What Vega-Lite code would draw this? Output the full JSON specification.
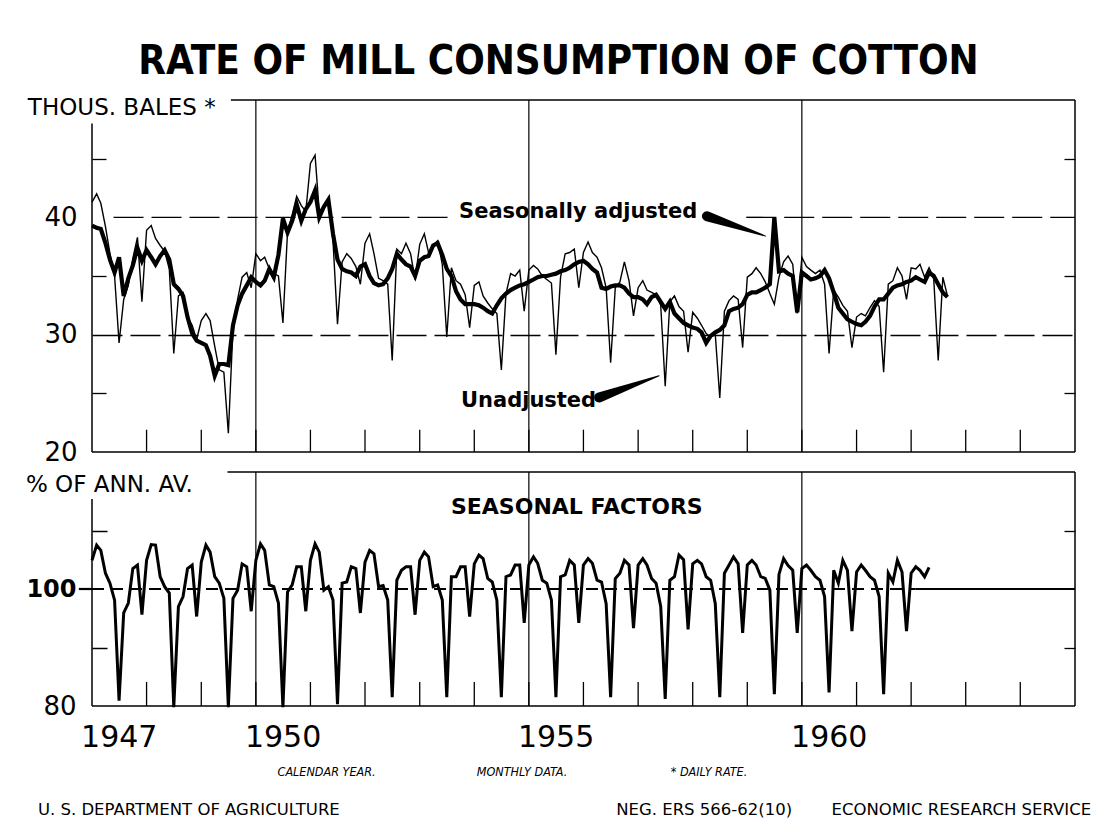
{
"$schema": "https://vega.github.io/schema/vega-lite/v6.json",
"background": "white",
"padding": {"left": 25, "top": 42, "right": 5, "bottom": 5},
"title": {"text": "RATE OF MILL CONSUMPTION OF COTTON", "font": "DejaVu Sans Condensed, DejaVu Sans", "fontSize": 40, "fontWeight": "bold", "color": "black", "anchor": "middle", "frame": "bounds", "offset": 15},
"config": {"view": {"stroke": null}, "axis": {"labelColor": "black", "tickColor": "black", "gridColor": "black", "domain": false, "labelFont": "DejaVu Sans"}},
"spacing": 6,
"datasets": {
"yrs": [{"y":"1948-01-01"},{"y":"1949-01-01"},{"y":"1950-01-01"},{"y":"1951-01-01"},{"y":"1952-01-01"},{"y":"1953-01-01"},{"y":"1954-01-01"},{"y":"1955-01-01"},{"y":"1956-01-01"},{"y":"1957-01-01"},{"y":"1958-01-01"},{"y":"1959-01-01"},{"y":"1960-01-01"},{"y":"1961-01-01"},{"y":"1962-01-01"},{"y":"1963-01-01"},{"y":"1964-01-01"}],
"g5": [{"y":"1950-01-01"},{"y":"1955-01-01"},{"y":"1960-01-01"}],
"yl": [{"d":"1947-07-02","t":"1947"},{"d":"1950-07-02","t":"1950"},{"d":"1955-07-02","t":"1955"},{"d":"1960-07-02","t":"1960"}],
"m": [
{"d":"1947-01","u":41.3,"a":39.3,"s":104.9},{"d":"1947-02","u":42.0,"a":39.1,"s":107.5},{"d":"1947-03","u":41.2,"a":39.0,"s":106.6},{"d":"1947-04","u":39.2,"a":37.8,"s":102.7},{"d":"1947-05","u":36.9,"a":36.4,"s":101.0},{"d":"1947-06","u":35.0,"a":35.3,"s":98.1},{"d":"1947-07","u":29.3,"a":36.6,"s":80.9},{"d":"1947-08","u":33.0,"a":33.3,"s":95.9},{"d":"1947-09","u":34.2,"a":34.8,"s":97.6},{"d":"1947-10","u":36.5,"a":35.9,"s":103.5},{"d":"1947-11","u":38.3,"a":37.4,"s":104.1},{"d":"1947-12","u":32.8,"a":36.3,"s":95.6},
{"d":"1948-01","u":38.9,"a":37.2,"s":104.9},{"d":"1948-02","u":39.3,"a":36.6,"s":107.6},{"d":"1948-03","u":38.2,"a":36.0,"s":107.5},{"d":"1948-04","u":37.6,"a":36.7,"s":102.1},{"d":"1948-05","u":37.1,"a":37.2,"s":100.4},{"d":"1948-06","u":35.6,"a":36.4,"s":99.3},{"d":"1948-07","u":28.4,"a":34.3,"s":79.8},{"d":"1948-08","u":33.3,"a":33.9,"s":97.0},{"d":"1948-09","u":33.6,"a":33.3,"s":98.7},{"d":"1948-10","u":31.5,"a":31.5,"s":103.5},{"d":"1948-11","u":30.8,"a":30.1,"s":104.1},{"d":"1948-12","u":29.6,"a":29.5,"s":95.3},
{"d":"1949-01","u":31.2,"a":29.3,"s":104.6},{"d":"1949-02","u":31.8,"a":29.1,"s":107.5},{"d":"1949-03","u":31.2,"a":28.2,"s":106.3},{"d":"1949-04","u":29.0,"a":26.5,"s":102.1},{"d":"1949-05","u":27.0,"a":27.5,"s":101.0},{"d":"1949-06","u":26.8,"a":27.5,"s":98.4},{"d":"1949-07","u":21.6,"a":27.4,"s":79.8},{"d":"1949-08","u":30.5,"a":30.8,"s":98.4},{"d":"1949-09","u":33.0,"a":32.5,"s":99.8},{"d":"1949-10","u":34.9,"a":33.5,"s":104.3},{"d":"1949-11","u":35.3,"a":34.2,"s":103.8},{"d":"1949-12","u":34.0,"a":34.9,"s":96.2},
{"d":"1950-01","u":36.9,"a":34.5,"s":104.9},{"d":"1950-02","u":36.3,"a":34.2,"s":107.7},{"d":"1950-03","u":36.6,"a":34.6,"s":106.6},{"d":"1950-04","u":35.6,"a":35.6,"s":100.7},{"d":"1950-05","u":35.2,"a":34.9,"s":100.4},{"d":"1950-06","u":35.0,"a":36.8,"s":97.6},{"d":"1950-07","u":31.0,"a":39.9,"s":79.8},{"d":"1950-08","u":38.8,"a":38.7,"s":99.5},{"d":"1950-09","u":40.2,"a":39.7,"s":100.7},{"d":"1950-10","u":41.8,"a":41.1,"s":103.8},{"d":"1950-11","u":41.0,"a":39.7,"s":103.8},{"d":"1950-12","u":40.5,"a":40.7,"s":96.2},
{"d":"1951-01","u":44.6,"a":41.3,"s":104.9},{"d":"1951-02","u":45.3,"a":42.3,"s":107.7},{"d":"1951-03","u":40.5,"a":40.0,"s":106.3},{"d":"1951-04","u":41.0,"a":40.9,"s":99.8},{"d":"1951-05","u":41.6,"a":41.5,"s":100.4},{"d":"1951-06","u":38.0,"a":38.6,"s":98.1},{"d":"1951-07","u":30.9,"a":36.4,"s":80.3},{"d":"1951-08","u":36.2,"a":35.6,"s":101.0},{"d":"1951-09","u":36.9,"a":35.4,"s":101.2},{"d":"1951-10","u":36.5,"a":35.3,"s":103.8},{"d":"1951-11","u":35.8,"a":35.0,"s":103.5},{"d":"1951-12","u":34.3,"a":35.8,"s":95.9},
{"d":"1952-01","u":37.8,"a":36.0,"s":104.6},{"d":"1952-02","u":38.6,"a":35.0,"s":106.6},{"d":"1952-03","u":36.9,"a":34.4,"s":106.0},{"d":"1952-04","u":34.8,"a":34.2,"s":100.4},{"d":"1952-05","u":34.6,"a":34.3,"s":100.6},{"d":"1952-06","u":34.3,"a":34.8,"s":98.1},{"d":"1952-07","u":27.8,"a":35.6,"s":81.5},{"d":"1952-08","u":37.3,"a":36.9,"s":101.5},{"d":"1952-09","u":36.9,"a":36.4,"s":103.2},{"d":"1952-10","u":37.8,"a":36.0,"s":103.8},{"d":"1952-11","u":36.9,"a":35.8,"s":103.8},{"d":"1952-12","u":34.7,"a":35.0,"s":95.6},
{"d":"1953-01","u":37.7,"a":36.3,"s":104.9},{"d":"1953-02","u":38.6,"a":36.6,"s":106.3},{"d":"1953-03","u":37.0,"a":36.7,"s":105.5},{"d":"1953-04","u":37.6,"a":37.6,"s":100.4},{"d":"1953-05","u":38.0,"a":37.8,"s":100.7},{"d":"1953-06","u":36.0,"a":36.8,"s":98.1},{"d":"1953-07","u":29.8,"a":35.6,"s":81.5},{"d":"1953-08","u":35.7,"a":35.0,"s":102.1},{"d":"1953-09","u":34.6,"a":33.7,"s":102.1},{"d":"1953-10","u":34.3,"a":33.0,"s":103.8},{"d":"1953-11","u":33.4,"a":32.6,"s":103.8},{"d":"1953-12","u":30.6,"a":32.6,"s":95.3},
{"d":"1954-01","u":34.2,"a":32.6,"s":104.3},{"d":"1954-02","u":34.5,"a":32.5,"s":105.8},{"d":"1954-03","u":33.3,"a":32.3,"s":105.2},{"d":"1954-04","u":32.7,"a":32.0,"s":101.8},{"d":"1954-05","u":32.2,"a":31.8,"s":101.2},{"d":"1954-06","u":31.8,"a":32.5,"s":98.1},{"d":"1954-07","u":27.0,"a":33.1,"s":81.5},{"d":"1954-08","u":33.5,"a":33.5,"s":102.1},{"d":"1954-09","u":35.2,"a":33.8,"s":102.4},{"d":"1954-10","u":35.0,"a":34.0,"s":104.1},{"d":"1954-11","u":35.5,"a":34.2,"s":104.1},{"d":"1954-12","u":32.0,"a":34.3,"s":94.2},
{"d":"1955-01","u":35.5,"a":34.5,"s":104.1},{"d":"1955-02","u":35.9,"a":34.7,"s":105.5},{"d":"1955-03","u":35.6,"a":34.9,"s":104.4},{"d":"1955-04","u":35.0,"a":35.0,"s":101.5},{"d":"1955-05","u":34.7,"a":35.0,"s":101.0},{"d":"1955-06","u":34.4,"a":35.1,"s":98.1},{"d":"1955-07","u":28.3,"a":35.2,"s":81.5},{"d":"1955-08","u":34.9,"a":35.4,"s":102.1},{"d":"1955-09","u":36.9,"a":35.5,"s":102.4},{"d":"1955-10","u":37.0,"a":35.7,"s":104.9},{"d":"1955-11","u":37.3,"a":36.0,"s":104.1},{"d":"1955-12","u":34.0,"a":36.2,"s":94.2},
{"d":"1956-01","u":37.0,"a":36.3,"s":104.1},{"d":"1956-02","u":37.9,"a":36.0,"s":105.2},{"d":"1956-03","u":37.0,"a":35.6,"s":104.4},{"d":"1956-04","u":36.6,"a":35.3,"s":101.5},{"d":"1956-05","u":35.7,"a":34.0,"s":101.2},{"d":"1956-06","u":34.0,"a":33.9,"s":97.5},{"d":"1956-07","u":27.6,"a":34.1,"s":81.5},{"d":"1956-08","u":34.0,"a":34.2,"s":101.8},{"d":"1956-09","u":34.5,"a":34.2,"s":102.7},{"d":"1956-10","u":36.2,"a":34.0,"s":104.9},{"d":"1956-11","u":34.6,"a":33.5,"s":104.1},{"d":"1956-12","u":31.6,"a":33.2,"s":93.3},
{"d":"1957-01","u":34.0,"a":33.2,"s":104.1},{"d":"1957-02","u":34.6,"a":33.0,"s":105.2},{"d":"1957-03","u":33.8,"a":32.6,"s":104.1},{"d":"1957-04","u":33.6,"a":33.2,"s":101.8},{"d":"1957-05","u":33.4,"a":33.4,"s":101.0},{"d":"1957-06","u":32.5,"a":32.8,"s":97.0},{"d":"1957-07","u":25.6,"a":32.2,"s":81.2},{"d":"1957-08","u":32.8,"a":32.8,"s":101.5},{"d":"1957-09","u":33.3,"a":31.8,"s":102.1},{"d":"1957-10","u":32.4,"a":31.4,"s":105.8},{"d":"1957-11","u":32.0,"a":31.0,"s":105.0},{"d":"1957-12","u":28.5,"a":30.8,"s":93.1},
{"d":"1958-01","u":31.9,"a":30.6,"s":104.3},{"d":"1958-02","u":31.4,"a":30.5,"s":104.9},{"d":"1958-03","u":30.8,"a":30.2,"s":104.3},{"d":"1958-04","u":30.1,"a":29.3,"s":102.1},{"d":"1958-05","u":29.8,"a":29.9,"s":101.5},{"d":"1958-06","u":30.0,"a":30.2,"s":97.5},{"d":"1958-07","u":24.6,"a":30.4,"s":81.5},{"d":"1958-08","u":32.0,"a":30.8,"s":102.7},{"d":"1958-09","u":32.9,"a":32.0,"s":104.1},{"d":"1958-10","u":33.3,"a":32.2,"s":105.5},{"d":"1958-11","u":33.0,"a":32.3,"s":104.3},{"d":"1958-12","u":28.9,"a":32.6,"s":92.5},
{"d":"1959-01","u":34.9,"a":33.4,"s":104.1},{"d":"1959-02","u":35.2,"a":33.6,"s":104.9},{"d":"1959-03","u":35.7,"a":33.6,"s":104.1},{"d":"1959-04","u":35.2,"a":33.8,"s":102.1},{"d":"1959-05","u":34.5,"a":34.0,"s":101.8},{"d":"1959-06","u":33.5,"a":34.3,"s":99.8},{"d":"1959-07","u":32.6,"a":40.0,"s":82.0},{"d":"1959-08","u":34.9,"a":35.4,"s":102.5},{"d":"1959-09","u":36.2,"a":35.5,"s":105.2},{"d":"1959-10","u":36.7,"a":35.2,"s":104.0},{"d":"1959-11","u":36.0,"a":35.0,"s":103.2},{"d":"1959-12","u":31.8,"a":31.9,"s":92.5},
{"d":"1960-01","u":36.6,"a":35.3,"s":103.5},{"d":"1960-02","u":35.8,"a":35.0,"s":104.1},{"d":"1960-03","u":35.5,"a":34.7,"s":103.2},{"d":"1960-04","u":35.2,"a":34.8,"s":102.1},{"d":"1960-05","u":35.5,"a":35.0,"s":101.5},{"d":"1960-06","u":34.3,"a":35.5,"s":98.7},{"d":"1960-07","u":28.4,"a":34.8,"s":82.3},{"d":"1960-08","u":33.8,"a":33.6,"s":103.2},{"d":"1960-09","u":33.2,"a":32.3,"s":101.0},{"d":"1960-10","u":32.5,"a":31.8,"s":104.9},{"d":"1960-11","u":32.0,"a":31.3,"s":103.2},{"d":"1960-12","u":28.9,"a":31.1,"s":92.8},
{"d":"1961-01","u":31.5,"a":30.9,"s":102.9},{"d":"1961-02","u":31.8,"a":30.8,"s":104.1},{"d":"1961-03","u":31.6,"a":31.1,"s":103.2},{"d":"1961-04","u":32.3,"a":31.6,"s":102.1},{"d":"1961-05","u":32.9,"a":32.4,"s":101.5},{"d":"1961-06","u":32.4,"a":33.0,"s":98.7},{"d":"1961-07","u":26.8,"a":33.0,"s":82.0},{"d":"1961-08","u":34.3,"a":33.5,"s":102.7},{"d":"1961-09","u":34.6,"a":34.0,"s":101.2},{"d":"1961-10","u":35.7,"a":34.2,"s":104.9},{"d":"1961-11","u":35.0,"a":34.3,"s":102.9},{"d":"1961-12","u":33.0,"a":34.5,"s":92.8},
{"d":"1962-01","u":35.7,"a":34.6,"s":102.7},{"d":"1962-02","u":35.6,"a":34.9,"s":103.8},{"d":"1962-03","u":36.0,"a":34.7,"s":103.2},{"d":"1962-04","u":34.9,"a":34.5,"s":102.1},{"d":"1962-05","u":35.7,"a":35.3,"s":103.7},{"d":"1962-06","u":34.8,"a":35.0},{"d":"1962-07","u":27.8,"a":34.3},{"d":"1962-08","u":34.9,"a":33.6},{"d":"1962-09","u":33.3,"a":33.2}
]},
"vconcat": [
{
"width": 983, "height": 352,
"resolve": {"axis": {"y": "independent"}},
"layer": [
{"data": {"name": "g5"}, "mark": {"type": "rule", "color": "black", "strokeWidth": 1.2},
 "encoding": {"x": {"field": "y", "type": "temporal", "scale": {"type": "utc", "domain": [{"year":1947,"month":1,"date":1,"utc":true},{"year":1965,"month":1,"date":1,"utc":true}]}, "axis": null}}},
{"data": {"name": "yrs"}, "mark": {"type": "rule", "color": "black", "strokeWidth": 1.3},
 "encoding": {"x": {"field": "y", "type": "temporal", "axis": null}, "y": {"datum": 20, "type": "quantitative", "axis": null}, "y2": {"datum": 21.9}}},
{"data": {"name": "m"}, "mark": {"type": "line", "color": "black", "strokeWidth": 1.4},
 "encoding": {
  "x": {"field": "d", "type": "temporal", "axis": null},
  "y": {"field": "u", "type": "quantitative", "scale": {"domain": [20, 50], "nice": false, "zero": false},
        "axis": {"orient": "left", "values": [20,25,30,35,40,45], "labelExpr": "datum.value % 10 == 0 ? datum.label : ''", "labelFontSize": 26, "labelPadding": 29, "tickSize": -14, "tickWidth": 1.3, "tickOpacity": {"condition": {"test": "datum.value % 10 != 0", "value": 1}, "value": 0}, "grid": true, "gridOpacity": {"condition": {"test": "datum.value == 30", "value": 1}, "value": 0}, "gridDash": [30, 8], "gridWidth": 1.3, "domain": false, "title": null}}
 }},
{"data": {"name": "m"}, "mark": {"type": "line", "color": "black", "strokeWidth": 4.2},
 "encoding": {
  "x": {"field": "d", "type": "temporal", "axis": null},
  "y": {"field": "a", "type": "quantitative", "axis": {"orient": "right", "values": [25, 35, 45], "labels": false, "tickSize": -11, "tickWidth": 1.3, "grid": false, "domain": false, "title": null}}
 }},
{"data": {"values": [{}]}, "mark": {"type": "rule", "color": "black", "strokeWidth": 1.5},
 "encoding": {"x": {"datum": {"year":1947,"month":1,"date":1,"utc":true}, "type": "temporal", "axis": null}, "y": {"datum": 20, "type": "quantitative", "axis": null}, "y2": {"datum": 48}}},
{"data": {"values": [{}]}, "mark": {"type": "rule", "color": "black", "strokeWidth": 1.5},
 "encoding": {"x": {"datum": {"year":1949,"month":7,"date":18,"utc":true}, "type": "temporal", "axis": null}, "x2": {"datum": {"year":1965,"month":1,"date":1,"utc":true}}, "y": {"datum": 50, "type": "quantitative", "axis": null}}},
{"data": {"values": [{}]}, "mark": {"type": "rule", "color": "black", "strokeWidth": 1.5},
 "encoding": {"x": {"datum": {"year":1965,"month":1,"date":1,"utc":true}, "type": "temporal", "axis": null}, "y": {"datum": 20, "type": "quantitative", "axis": null}, "y2": {"datum": 50}}},
{"data": {"values": [{}]}, "mark": {"type": "rule", "color": "black", "strokeWidth": 1.5},
 "encoding": {"x": {"datum": {"year":1947,"month":1,"date":1,"utc":true}, "type": "temporal", "axis": null}, "x2": {"datum": {"year":1965,"month":1,"date":1,"utc":true}}, "y": {"datum": 20, "type": "quantitative", "axis": null}}},
{"data": {"values": [{}]}, "mark": {"type": "rule", "color": "black", "strokeWidth": 1.4, "strokeDash": [30, 8]},
 "encoding": {"x": {"datum": {"year":1947,"month":5,"date":25,"utc":true}, "type": "temporal", "axis": null}, "x2": {"datum": {"year":1953,"month":8,"date":10,"utc":true}}, "y": {"datum": 40, "type": "quantitative", "axis": null}}},
{"data": {"values": [{}]}, "mark": {"type": "rule", "color": "black", "strokeWidth": 1.4, "strokeDash": [30, 8]},
 "encoding": {"x": {"datum": {"year":1958,"month":12,"date":25,"utc":true}, "type": "temporal", "axis": null}, "x2": {"datum": {"year":1965,"month":1,"date":1,"utc":true}}, "y": {"datum": 40, "type": "quantitative", "axis": null}}},
{"data": {"values": [{}]}, "mark": {"type": "text", "text": "THOUS. BALES *", "font": "DejaVu Sans", "fontSize": 23, "align": "left", "baseline": "alphabetic", "color": "black"},
 "encoding": {"x": {"datum": {"year":1945,"month":10,"date":29,"utc":true}, "type": "temporal", "axis": null}, "y": {"datum": 48.7, "type": "quantitative", "axis": null}}},
{"data": {"values": [{}]}, "mark": {"type": "text", "text": "Seasonally adjusted", "font": "DejaVu Sans", "fontSize": 21, "fontWeight": "bold", "align": "left", "baseline": "alphabetic", "color": "black"},
 "encoding": {"x": {"datum": {"year":1953,"month":9,"date":21,"utc":true}, "type": "temporal", "axis": null}, "y": {"datum": 39.94, "type": "quantitative", "axis": null}}},
{"data": {"values": [{}]}, "mark": {"type": "text", "text": "Unadjusted", "font": "DejaVu Sans", "fontSize": 21, "fontWeight": "bold", "align": "left", "baseline": "alphabetic", "color": "black"},
 "encoding": {"x": {"datum": {"year":1953,"month":10,"date":4,"utc":true}, "type": "temporal", "axis": null}, "y": {"datum": 23.83, "type": "quantitative", "axis": null}}},
{"data": {"values": [
  {"w": "sa", "d": "1958-04-06", "v": 40.1, "end": "base"},
  {"w": "sa", "d": "1959-05-04", "v": 38.4, "end": "tip"},
  {"w": "un", "d": "1956-04-15", "v": 24.65, "end": "base"},
  {"w": "un", "d": "1957-05-21", "v": 26.5, "end": "tip"}]},
 "mark": {"type": "trail", "color": "black"},
 "encoding": {"x": {"field": "d", "type": "temporal", "axis": null}, "y": {"field": "v", "type": "quantitative", "axis": null}, "detail": {"field": "w"}, "size": {"field": "end", "type": "nominal", "scale": {"domain": ["base", "tip"], "range": [10, 1]}, "legend": null}}}
]
},
{
"width": 983, "height": 234,
"resolve": {"axis": {"y": "independent"}},
"layer": [
{"data": {"name": "g5"}, "mark": {"type": "rule", "color": "black", "strokeWidth": 1.2},
 "encoding": {"x": {"field": "y", "type": "temporal", "scale": {"type": "utc", "domain": [{"year":1947,"month":1,"date":1,"utc":true},{"year":1965,"month":1,"date":1,"utc":true}]}, "axis": null}}},
{"data": {"name": "yrs"}, "mark": {"type": "rule", "color": "black", "strokeWidth": 1.3},
 "encoding": {"x": {"field": "y", "type": "temporal", "axis": null}, "y": {"datum": 80, "type": "quantitative", "axis": null}, "y2": {"datum": 84.1}}},
{"data": {"name": "m"}, "mark": {"type": "line", "color": "black", "strokeWidth": 3},
 "encoding": {
  "x": {"field": "d", "type": "temporal", "axis": null},
  "y": {"field": "s", "type": "quantitative", "scale": {"domain": [80, 120], "nice": false, "zero": false},
        "axis": {"orient": "left", "values": [80, 90, 100, 110], "labelExpr": "datum.value % 20 == 0 ? datum.label : ''", "labelFontSize": {"condition": {"test": "datum.value == 100", "value": 24}, "value": 26}, "labelFontWeight": {"condition": {"test": "datum.value == 100", "value": "bold"}, "value": "normal"}, "labelPadding": 31, "tickSize": -15, "tickWidth": 1.5, "tickOpacity": {"condition": {"test": "datum.value == 90 || datum.value == 110", "value": 1}, "value": 0}, "grid": false, "domain": false, "title": null}}
 }},
{"data": {"values": [{}]}, "mark": {"type": "rule", "color": "black", "strokeWidth": 2, "strokeDash": [12, 7]},
 "encoding": {"x": {"datum": {"year":1947,"month":1,"date":1,"utc":true}, "type": "temporal", "axis": null}, "x2": {"datum": {"year":1962,"month":2,"date":1,"utc":true}}, "y": {"datum": 100, "type": "quantitative", "axis": null}}},
{"data": {"values": [{}]}, "mark": {"type": "rule", "color": "black", "strokeWidth": 2.2},
 "encoding": {"x": {"datum": {"year":1946,"month":10,"date":5,"utc":true}, "type": "temporal", "axis": null}, "x2": {"datum": {"year":1947,"month":1,"date":1,"utc":true}}, "y": {"datum": 100, "type": "quantitative", "axis": null}}},
{"data": {"values": [{}]}, "mark": {"type": "rule", "color": "black", "strokeWidth": 2.2},
 "encoding": {"x": {"datum": {"year":1962,"month":2,"date":1,"utc":true}, "type": "temporal", "axis": null}, "x2": {"datum": {"year":1965,"month":1,"date":1,"utc":true}}, "y": {"datum": 100, "type": "quantitative", "axis": {"orient": "right", "values": [90, 110], "labels": false, "tickSize": -11, "tickWidth": 1.3, "grid": false, "domain": false, "title": null}}}},
{"data": {"values": [{}]}, "mark": {"type": "rule", "color": "black", "strokeWidth": 1.5},
 "encoding": {"x": {"datum": {"year":1947,"month":1,"date":1,"utc":true}, "type": "temporal", "axis": null}, "y": {"datum": 80, "type": "quantitative", "axis": null}, "y2": {"datum": 115.4}}},
{"data": {"values": [{}]}, "mark": {"type": "rule", "color": "black", "strokeWidth": 1.5},
 "encoding": {"x": {"datum": {"year":1949,"month":6,"date":25,"utc":true}, "type": "temporal", "axis": null}, "x2": {"datum": {"year":1965,"month":1,"date":1,"utc":true}}, "y": {"datum": 120, "type": "quantitative", "axis": null}}},
{"data": {"values": [{}]}, "mark": {"type": "rule", "color": "black", "strokeWidth": 1.5},
 "encoding": {"x": {"datum": {"year":1965,"month":1,"date":1,"utc":true}, "type": "temporal", "axis": null}, "y": {"datum": 80, "type": "quantitative", "axis": null}, "y2": {"datum": 120}}},
{"data": {"values": [{}]}, "mark": {"type": "rule", "color": "black", "strokeWidth": 1.5},
 "encoding": {"x": {"datum": {"year":1947,"month":1,"date":1,"utc":true}, "type": "temporal", "axis": null}, "x2": {"datum": {"year":1965,"month":1,"date":1,"utc":true}}, "y": {"datum": 80, "type": "quantitative", "axis": null}}},
{"data": {"name": "yl"}, "mark": {"type": "text", "font": "DejaVu Sans", "fontSize": 30, "align": "center", "baseline": "top", "color": "black"},
 "encoding": {"x": {"field": "d", "type": "temporal", "axis": null}, "y": {"datum": 77.1, "type": "quantitative", "axis": null}, "text": {"field": "t"}}},
{"data": {"values": [{}]}, "mark": {"type": "text", "text": "% OF ANN. AV.", "font": "DejaVu Sans", "fontSize": 23, "align": "left", "baseline": "alphabetic", "color": "black"},
 "encoding": {"x": {"datum": {"year":1945,"month":10,"date":16,"utc":true}, "type": "temporal", "axis": null}, "y": {"datum": 116.5, "type": "quantitative", "axis": null}}},
{"data": {"values": [{}]}, "mark": {"type": "text", "text": "SEASONAL FACTORS", "font": "DejaVu Sans", "fontSize": 22, "fontWeight": "bold", "align": "left", "baseline": "alphabetic", "color": "black"},
 "encoding": {"x": {"datum": {"year":1953,"month":7,"date":29,"utc":true}, "type": "temporal", "axis": null}, "y": {"datum": 112.9, "type": "quantitative", "axis": null}}},
{"data": {"values": [{}]}, "mark": {"type": "text", "text": "CALENDAR YEAR.", "font": "DejaVu Sans Condensed, DejaVu Sans", "fontSize": 12.5, "fontStyle": "italic", "align": "center", "baseline": "alphabetic", "color": "black"},
 "encoding": {"x": {"datum": {"year":1951,"month":4,"date":19,"utc":true}, "type": "temporal", "axis": null}, "y": {"datum": 68.0, "type": "quantitative", "axis": null}}},
{"data": {"values": [{}]}, "mark": {"type": "text", "text": "MONTHLY DATA.", "font": "DejaVu Sans Condensed, DejaVu Sans", "fontSize": 12.5, "fontStyle": "italic", "align": "center", "baseline": "alphabetic", "color": "black"},
 "encoding": {"x": {"datum": {"year":1954,"month":11,"date":16,"utc":true}, "type": "temporal", "axis": null}, "y": {"datum": 68.0, "type": "quantitative", "axis": null}}},
{"data": {"values": [{}]}, "mark": {"type": "text", "text": "* DAILY RATE.", "font": "DejaVu Sans Condensed, DejaVu Sans", "fontSize": 12.5, "fontStyle": "italic", "align": "center", "baseline": "alphabetic", "color": "black"},
 "encoding": {"x": {"datum": {"year":1958,"month":4,"date":20,"utc":true}, "type": "temporal", "axis": null}, "y": {"datum": 68.0, "type": "quantitative", "axis": null}}},
{"data": {"values": [{}]}, "mark": {"type": "text", "text": "U. S. DEPARTMENT OF AGRICULTURE", "font": "DejaVu Sans", "fontSize": 16.5, "align": "left", "baseline": "alphabetic", "color": "black"},
 "encoding": {"x": {"datum": {"year":1946,"month":1,"date":4,"utc":true}, "type": "temporal", "axis": null}, "y": {"datum": 61.4, "type": "quantitative", "axis": null}}},
{"data": {"values": [{}]}, "mark": {"type": "text", "text": "NEG. ERS 566-62(10)", "font": "DejaVu Sans", "fontSize": 16.5, "align": "left", "baseline": "alphabetic", "color": "black"},
 "encoding": {"x": {"datum": {"year":1956,"month":8,"date":7,"utc":true}, "type": "temporal", "axis": null}, "y": {"datum": 61.4, "type": "quantitative", "axis": null}}},
{"data": {"values": [{}]}, "mark": {"type": "text", "text": "ECONOMIC RESEARCH SERVICE", "font": "DejaVu Sans", "fontSize": 16.5, "align": "right", "baseline": "alphabetic", "color": "black"},
 "encoding": {"x": {"datum": {"year":1965,"month":4,"date":19,"utc":true}, "type": "temporal", "axis": null}, "y": {"datum": 61.4, "type": "quantitative", "axis": null}}}
]
}
]
}
